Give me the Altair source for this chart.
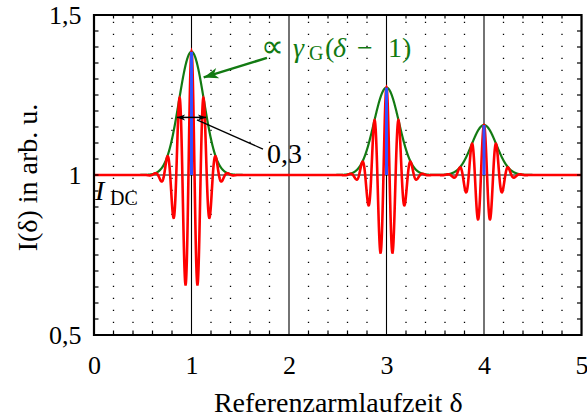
import altair as alt
import numpy as np
import pandas as pd

# Fringe packets of the interferogram: delay of each packet and envelope height above I_DC
packet_centres = [1.0, 3.0, 4.0]
packet_heights = [0.385, 0.273, 0.156]
packet_fwhm = 0.3          # full width at half maximum of the coherence envelope
fringe_period = 0.125      # period of the interference fringes in delta
i_dc = 1.0

x_ticks = [0, 1, 2, 3, 4, 5]
y_ticks = [0.5, 1.0, 1.5]
x_minor = [round(0.2 * k, 1) for k in range(1, 25) if k % 5 != 0]
y_minor = [round(0.5 + 0.05 * k, 2) for k in range(1, 20)]
x_major_grid = [1, 2, 3, 4]
y_major_grid = [1.0]

W, H = 487.5, 320
FONT = "Liberation Serif"
RED, GREEN, BLUE = "#ff0000", "#127a12", "#3450ff"

# ---- curves -------------------------------------------------------------
sigma = packet_fwhm / (2.0 * np.sqrt(2.0 * np.log(2.0)))
delta = np.linspace(0.0, 5.0, 2501)
envelope = np.zeros_like(delta)
fringes = np.zeros_like(delta)
for c, h in zip(packet_centres, packet_heights):
    g = h * np.exp(-((delta - c) ** 2) / (2.0 * sigma ** 2))
    envelope += g
    fringes += g * np.cos(2.0 * np.pi * (delta - c) / fringe_period)

curves = pd.DataFrame({"d": delta, "env": i_dc + envelope, "sig": i_dc + fringes})
peaks = pd.DataFrame({"d": packet_centres,
                      "lo": [i_dc] * len(packet_centres),
                      "hi": [i_dc + h for h in packet_heights]})

xs = alt.Scale(domain=[0, 5], nice=False, zero=False)
ys = alt.Scale(domain=[0.5, 1.5], nice=False, zero=False)

# one axis definition shared by every layer, so the layers merge into a single axis
XAXIS = alt.Axis(
    values=x_ticks, grid=False, ticks=False, domain=False, format="d",
    labelFont=FONT, labelFontSize=26, labelColor="black",
    labelBaseline="alphabetic", labelPadding=38, labelFlush=False,
    title="Referenzarmlaufzeit δ", titleFont=FONT, titleFontSize=28,
    titleFontWeight="normal", titleColor="black",
    titleBaseline="alphabetic", titleY=76)
YAXIS = alt.Axis(
    values=y_ticks, grid=False, ticks=False, domain=False,
    labelExpr="datum.value == 1 ? '1' : replace(toString(datum.value), '.', ',')",
    labelFont=FONT, labelFontSize=26, labelColor="black",
    labelBaseline="middle", labelPadding=13, labelFlush=False,
    title="I(δ) in arb. u.", titleFont=FONT, titleFontSize=28,
    titleFontWeight="normal", titleColor="black",
    titleBaseline="middle", titleX=-66, titleY=162)


def X(field="x"):
    return alt.X(f"{field}:Q", scale=xs, axis=XAXIS)


def Y(field="y"):
    return alt.Y(f"{field}:Q", scale=ys, axis=YAXIS)


# ---- grid ----------------------------------------------------------------
minor_grid = alt.Chart(pd.DataFrame({"x": x_minor})).mark_rule(
    color="black", strokeWidth=1.3, strokeDash=[1.3, 10.7]).encode(
    x=X(), y=alt.value(H), y2=alt.value(0))

vgrid = alt.Chart(pd.DataFrame({"x": x_major_grid})).mark_rule(
    color="black", strokeWidth=1.1).encode(x=X(), y=alt.value(0), y2=alt.value(H))
hgrid = alt.Chart(pd.DataFrame({"y": y_major_grid})).mark_rule(
    color="black", strokeWidth=1.1).encode(y=Y(), x=alt.value(0), x2=alt.value(W))

# ---- data curves ---------------------------------------------------------
env_line = alt.Chart(curves).mark_line(color=GREEN, strokeWidth=2.2).encode(
    x=X("d"), y=Y("env"))
sig_line = alt.Chart(curves).mark_line(color=RED, strokeWidth=2.6).encode(
    x=X("d"), y=Y("sig"))
peak_rules = alt.Chart(peaks).mark_rule(color=BLUE, strokeWidth=3).encode(
    x=X("d"), y=Y("lo"), y2=alt.Y2("hi"))

# ---- frame with inward ticks --------------------------------------------
frame = alt.Chart(pd.DataFrame({"x": [0]})).mark_rect(
    fill=None, stroke="black", strokeWidth=2.2).encode(
    x=alt.value(0), x2=alt.value(W), y=alt.value(0), y2=alt.value(H))
tick_left = alt.Chart(pd.DataFrame({"y": y_minor})).mark_rule(color="black", strokeWidth=1.2).encode(
    y=Y(), x=alt.value(0), x2=alt.value(4.5))
tick_right = alt.Chart(pd.DataFrame({"y": y_minor})).mark_rule(color="black", strokeWidth=1.2).encode(
    y=Y(), x=alt.value(W - 4.5), x2=alt.value(W))
tick_bottom = alt.Chart(pd.DataFrame({"x": x_minor})).mark_rule(color="black", strokeWidth=1.2).encode(
    x=X(), y=alt.value(H - 4.5), y2=alt.value(H))
tick_top = alt.Chart(pd.DataFrame({"x": x_minor})).mark_rule(color="black", strokeWidth=1.2).encode(
    x=X(), y=alt.value(0), y2=alt.value(3.5))


# ---- annotations ---------------------------------------------------------
def text_layer(xv, yv, txt, size=28, color="black", style="normal"):
    df = pd.DataFrame({"x": xv, "y": yv, "t": txt})
    return alt.Chart(df).mark_text(
        font=FONT, fontSize=size, color=color, fontStyle=style,
        align="left", baseline="alphabetic").encode(x=X(), y=Y(), text="t:N")


# proportional to gamma_G(delta - 1), set piece by piece (upright / italic / subscript)
gamma_prop = text_layer([1.713], [1.369], ["∝"], size=32, color=GREEN)
gamma_upright = text_layer([2.369, 2.697, 3.015, 3.159], [1.369] * 4,
                           ["(", "−", "1", ")"], color=GREEN)
gamma_italic = text_layer([2.041, 2.451], [1.369] * 2, ["γ", "δ"], color=GREEN, style="italic")
gamma_sub = text_layer([2.205], [1.359], ["G"], size=20, color=GREEN)
fwhm_text = text_layer([1.774], [1.0375], ["0,3"])
idc_main = text_layer([0.01], [0.922], ["I"], style="italic")
idc_sub = text_layer([0.164], [0.906], ["DC"], size=20)

# arrows: shaft endpoints in data units, tip at the second point
ARROW = "M0,0 L0.55,1.5 L0,1.1 L-0.55,1.5 Z"
PX_X, PX_Y = W / 5.0, H / 1.0


def head_angle(x0, y0, x1, y1):
    dx, dy = (x1 - x0) * PX_X, -(y1 - y0) * PX_Y
    return float(np.degrees(np.arctan2(dx, -dy)) % 360)


green_arrow = pd.DataFrame({"x": [1.774, 1.125], "y": [1.366, 1.305]})
green_shaft = alt.Chart(green_arrow).mark_line(color=GREEN, strokeWidth=2.4).encode(
    x=X(), y=Y())
green_head = alt.Chart(green_arrow.tail(1)).mark_point(
    shape=ARROW, size=380, filled=True, color=GREEN, opacity=1,
    angle=head_angle(1.774, 1.366, 1.118, 1.306)).encode(x=X(), y=Y())

leader = pd.DataFrame({"x": [1.056, 1.733], "y": [1.172, 1.081]})
leader_line = alt.Chart(leader).mark_line(color="black", strokeWidth=1.3).encode(x=X(), y=Y())

span = pd.DataFrame({"x": [1 - packet_fwhm / 2, 1 + packet_fwhm / 2], "y": [1.18, 1.18]})
span_line = alt.Chart(span).mark_line(color="black", strokeWidth=1.5).encode(x=X(), y=Y())
span_left = alt.Chart(span.head(1)).mark_point(
    shape=ARROW, size=120, filled=True, color="black", opacity=1, angle=270).encode(x=X(), y=Y())
span_right = alt.Chart(span.tail(1)).mark_point(
    shape=ARROW, size=120, filled=True, color="black", opacity=1, angle=90).encode(x=X(), y=Y())

chart = alt.layer(
    minor_grid, vgrid, hgrid,
    env_line, sig_line, peak_rules,
    frame, tick_left, tick_right, tick_bottom, tick_top,
    green_shaft, green_head, leader_line, span_line, span_left, span_right,
    gamma_prop, gamma_upright, gamma_italic, gamma_sub, fwhm_text, idc_main, idc_sub,
).properties(
    width=W, height=H,
    autosize=alt.AutoSizeParams(type="none"),
    padding={"left": 94, "top": 15, "right": 587 - 94 - W, "bottom": 416 - 15 - H},
).configure_view(stroke=None).configure(background="white")

chart.save("out.html", embed_options={"renderer": "svg", "actions": False})
